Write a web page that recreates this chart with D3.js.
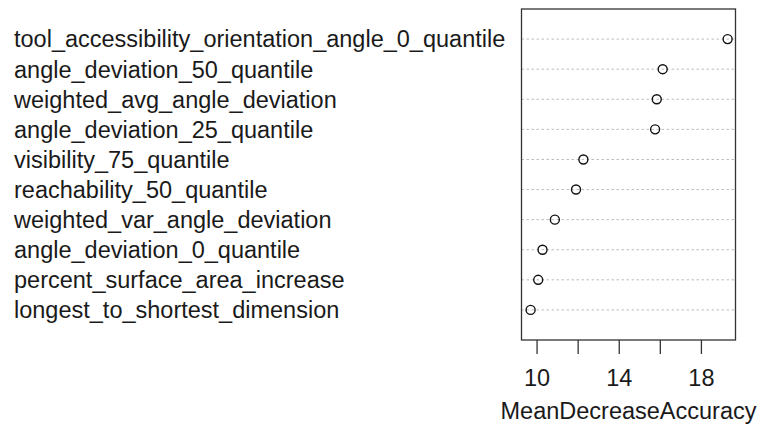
<!DOCTYPE html>
<html>
<head>
<meta charset="utf-8">
<script src="https://cdn.jsdelivr.net/npm/d3@7"></script>
<style>
  html, body { margin: 0; padding: 0; background: #fff; }
  svg { display: block; }
  text { font-family: "Liberation Sans", Arial, sans-serif; font-size: 23.5px; fill: #1a1a1a; }
</style>
</head>
<body>
<svg id="chart" width="765" height="425"></svg>
<script>
const categories = [
  "tool_accessibility_orientation_angle_0_quantile",
  "angle_deviation_50_quantile",
  "weighted_avg_angle_deviation",
  "angle_deviation_25_quantile",
  "visibility_75_quantile",
  "reachability_50_quantile",
  "weighted_var_angle_deviation",
  "angle_deviation_0_quantile",
  "percent_surface_area_increase",
  "longest_to_shortest_dimension"
];
const values = [19.30, 16.14, 15.85, 15.77, 12.28, 11.92, 10.89, 10.29, 10.08, 9.71];
const tickValues = [10, 12, 14, 16, 18];
const tickLabels = ["10", "", "14", "", "18"];
const xTitle = "MeanDecreaseAccuracy";

const svg = d3.select("#chart");
const box = { left: 521.5, right: 735.5, top: 9, bottom: 340 };

const ext = d3.extent(values);
const pad = (ext[1] - ext[0]) * 0.04;
const x = d3.scaleLinear().domain([ext[0] - pad - 0.06, ext[1] + pad]).range([box.left, box.right]);
const n = categories.length;
const y = d3.scaleLinear().domain([0, n + 1]).range([box.bottom, box.top]);
const rowY = i => y(n - i);

// dotted guide lines
svg.append("g").selectAll("line").data(categories).join("line")
  .attr("x1", box.left).attr("x2", box.right)
  .attr("y1", (d, i) => rowY(i)).attr("y2", (d, i) => rowY(i))
  .attr("stroke", "#bdbdbd").attr("stroke-width", 1)
  .attr("stroke-dasharray", "2.5,2.5");

// labels
svg.append("g").selectAll("text").data(categories).join("text")
  .attr("x", 14).attr("y", (d, i) => rowY(i) + 8.4)
  .text(d => d);

// points
svg.append("g").selectAll("circle").data(values).join("circle")
  .attr("cx", d => x(d)).attr("cy", (d, i) => rowY(i))
  .attr("r", 4.5).attr("fill", "none").attr("stroke", "#111").attr("stroke-width", 1.4);

// box
svg.append("rect")
  .attr("x", box.left).attr("y", box.top)
  .attr("width", box.right - box.left).attr("height", box.bottom - box.top)
  .attr("fill", "none").attr("stroke", "#333").attr("stroke-width", 1.3);

// x axis
const axis = d3.axisBottom(x).tickValues(tickValues)
  .tickFormat((d, i) => tickLabels[i]).tickSize(14).tickPadding(15).tickSizeOuter(0);
const gx = svg.append("g").attr("transform", `translate(0,${box.bottom})`).call(axis);
gx.select(".domain").remove();
gx.selectAll(".tick line").attr("stroke", "#333").attr("stroke-width", 1.3);
gx.selectAll(".tick text").attr("fill", "#1a1a1a");

svg.append("text")
  .attr("x", (box.left + box.right) / 2).attr("y", 419)
  .attr("text-anchor", "middle").text(xTitle);
</script>
</body>
</html>
